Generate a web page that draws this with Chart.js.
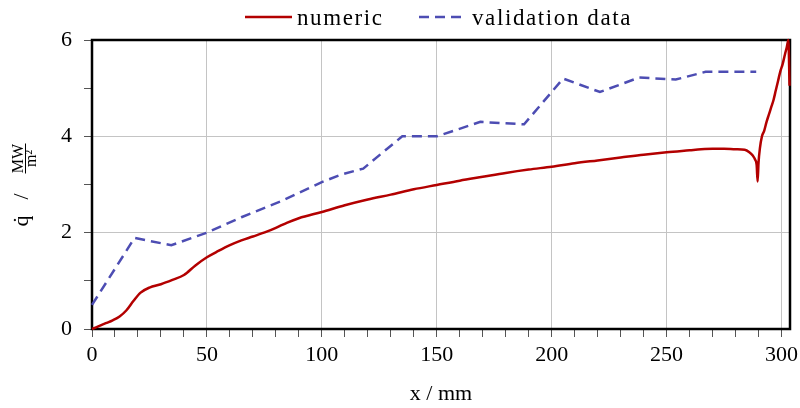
<!DOCTYPE html>
<html>
<head>
<meta charset="utf-8">
<script src="https://cdn.jsdelivr.net/npm/chart.js@4"></script>
<style>
  body { margin: 0; background: #fff; }
  canvas { display: block; }
</style>
</head>
<body>
<canvas id="chart" width="800" height="408"></canvas>
<script>
// Data
const numericX = [0, 3, 6, 9, 12, 15, 18, 21, 25, 30, 35, 40, 45, 50, 55, 60, 65, 70, 76, 80, 85, 90,
  100, 110, 120, 130, 140, 150, 160, 170, 180, 190, 200, 210, 220, 230, 240, 250, 260, 265, 270, 275,
  280, 284, 286, 287.5, 288.5, 289.2, 289.6, 290, 290.6, 291.5, 292.5, 293.5, 294.5, 295.5, 296.5,
  297.5, 298.5, 299.5, 300.5, 301.5, 302.3, 303, 303.5];
const numericY = [0, 0.06, 0.12, 0.18, 0.26, 0.39, 0.58, 0.75, 0.86, 0.93, 1.02, 1.12, 1.32, 1.49, 1.62,
  1.74, 1.84, 1.92, 2.02, 2.1, 2.21, 2.3, 2.43, 2.57, 2.69, 2.79, 2.9, 2.99, 3.08, 3.16, 3.24, 3.31, 3.37,
  3.44, 3.5, 3.56, 3.62, 3.67, 3.71, 3.73, 3.74, 3.74, 3.73, 3.72, 3.67, 3.6, 3.52, 3.4, 3.06, 3.45, 3.75,
  4.0, 4.12, 4.3, 4.45, 4.6, 4.75, 4.95, 5.15, 5.35, 5.5, 5.7, 5.85, 6.0, 5.05];

const validationX = [0, 18.5, 34.5, 50, 65, 82, 100, 108, 118, 135, 150, 169, 188, 205, 221, 238, 254, 267, 289];
const validationY = [0.5, 1.89, 1.74, 2.0, 2.32, 2.65, 3.05, 3.2, 3.33, 4.0, 4.0, 4.3, 4.25, 5.2, 4.92, 5.22, 5.18, 5.34, 5.34];

const xTickLabels = [0, 50, 100, 150, 200, 250, 300];
const yTickLabels = [0, 2, 4, 6];

const seriesNames = ["numeric", "validation data"];
const xTitle = "x / mm";

const RED = "#b30000";
const BLUE = "#4d4db3";
const FONT = "'Liberation Serif', serif";

function toPoints(xs, ys) {
  return xs.map((x, i) => ({ x: x, y: ys[i] }));
}

// frame, legend and y title drawn on the canvas
const extras = {
  id: "extras",
  beforeDatasetsDraw(chart) {
    const { ctx, chartArea: a } = chart;
    ctx.save();
    ctx.strokeStyle = "#000";
    ctx.lineWidth = 2.5;
    ctx.strokeRect(a.left, a.top, a.right - a.left, a.bottom - a.top);
    ctx.restore();
  },
  afterDraw(chart) {
    const { ctx, chartArea: a } = chart;
    ctx.save();
    // legend
    ctx.lineWidth = 2.5;
    ctx.strokeStyle = RED;
    ctx.beginPath(); ctx.moveTo(245, 17); ctx.lineTo(292, 17); ctx.stroke();
    ctx.strokeStyle = BLUE;
    ctx.setLineDash([10, 6]);
    ctx.beginPath(); ctx.moveTo(419, 17); ctx.lineTo(462, 17); ctx.stroke();
    ctx.setLineDash([]);
    ctx.fillStyle = "#000";
    ctx.font = "23px " + FONT;
    ctx.letterSpacing = "1.6px";
    ctx.textBaseline = "alphabetic";
    ctx.fillText(seriesNames[0], 297, 25);
    ctx.fillText(seriesNames[1], 472, 25);
    ctx.letterSpacing = "0px";

    // y title: q-dot / MW over m^2
    ctx.translate(26, (a.top + a.bottom) / 2 + 1);
    ctx.rotate(-Math.PI / 2);
    ctx.font = "22px " + FONT;
    ctx.textAlign = "left";
    ctx.fillText("q\u0307", -41, 2);
    ctx.fillText("/", -14, 2);
    ctx.font = "16px " + FONT;
    ctx.textAlign = "center";
    ctx.fillText("MW", 27, -3);
    ctx.fillText("m\u00b2", 27, 10);
    ctx.lineWidth = 1;
    ctx.strokeStyle = "#000";
    ctx.beginPath(); ctx.moveTo(12, -0.5); ctx.lineTo(42, -0.5); ctx.stroke();
    ctx.restore();
  }
};

new Chart(document.getElementById("chart"), {
  type: "line",
  data: {
    datasets: [
      {
        label: seriesNames[0],
        data: toPoints(numericX, numericY),
        borderColor: RED,
        borderWidth: 2.5,
        pointRadius: 0,
        cubicInterpolationMode: "monotone",
        fill: false,
        clip: false
      },
      {
        label: seriesNames[1],
        data: toPoints(validationX, validationY),
        borderColor: BLUE,
        borderWidth: 2.5,
        borderDash: [10, 6],
        pointRadius: 0,
        tension: 0,
        fill: false,
        clip: false
      }
    ]
  },
  options: {
    responsive: false,
    animation: false,
    devicePixelRatio: 1,
    layout: { padding: { top: 40, right: 10, left: 0, bottom: 0 } },
    plugins: { legend: { display: false }, tooltip: { enabled: false } },
    scales: {
      x: {
        type: "linear",
        min: 0,
        max: 303.7,
        afterFit: (s) => { s.height = 79; s.paddingLeft = 0; s.paddingRight = 0; },
        border: { display: false },
        grid: {
          color: (c) => (c.tick && xTickLabels.includes(c.tick.value) ? "#c4c4c4" : "rgba(0,0,0,0)"),
          tickColor: "#555",
          tickLength: 8,
          lineWidth: 1
        },
        ticks: {
          stepSize: 10,
          includeBounds: false,
          autoSkip: false,
          maxRotation: 0,
          padding: 5,
          color: "#000",
          font: { family: FONT, size: 22 },
          callback: (v) => (xTickLabels.includes(v) ? String(v) : "")
        },
        title: {
          display: true,
          text: xTitle,
          color: "#000",
          font: { family: FONT, size: 22 },
          padding: { top: 0, bottom: 1 }
        }
      },
      y: {
        type: "linear",
        min: 0,
        max: 6,
        afterFit: (s) => { s.width = 92; s.paddingTop = 0; s.paddingBottom = 0; },
        border: { display: false },
        grid: {
          color: (c) => (c.tick && yTickLabels.includes(c.tick.value) ? "#c4c4c4" : "rgba(0,0,0,0)"),
          tickColor: "#555",
          tickLength: 8,
          lineWidth: 1
        },
        ticks: {
          stepSize: 1,
          autoSkip: false,
          padding: 12,
          color: "#000",
          font: { family: FONT, size: 22 },
          callback: (v) => (yTickLabels.includes(v) ? String(v) : "")
        }
      }
    }
  },
  plugins: [extras]
});
</script>
</body>
</html>
